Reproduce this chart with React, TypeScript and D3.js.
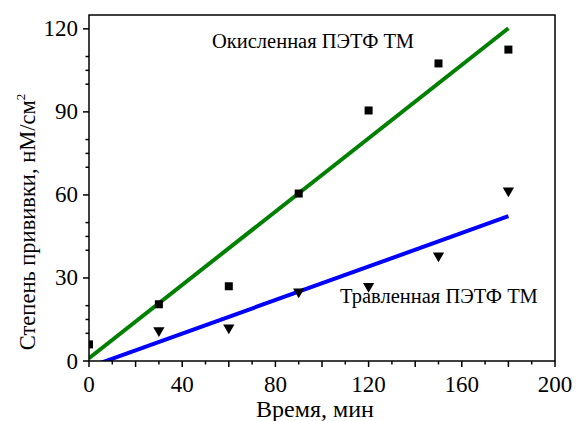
import React from "react";
import * as d3 from "d3";

const timeOx = [0, 30, 60, 90, 120, 150, 180];
const gradOx = [6, 20.5, 27, 60.5, 90.5, 107.5, 112.5];
const timeEt = [30, 60, 90, 120, 150, 180];
const gradEt = [11, 12, 25, 27, 38, 61.5];
const fitOxX = [0, 180];
const fitOxY = [1, 120.2];
const fitEtX = [0, 180];
const fitEtY = [-2.2, 52.3];
const xMajorLabels = [0, 40, 80, 120, 160, 200];
const yMajorLabels = [0, 30, 60, 90, 120];
const labelOx = "Окисленная ПЭТФ ТМ";
const labelEt = "Травленная ПЭТФ ТМ";
const xTitle = "Время, мин";
const yTitle = "Степень прививки, нМ/см";

const W = 576, H = 421;
const L = 89, R = 555, T = 15, B = 361;
const font = '"Liberation Serif", "Times New Roman", "DejaVu Serif", serif';

export default function App() {
  const x = d3.scaleLinear().domain([0, 200]).range([L, R]);
  const y = d3.scaleLinear().domain([0, 125]).range([B, T]);
  const xTicks = d3.range(0, 201, 10);
  const yTicks = d3.range(0, 126, 5).filter((v) => v % 30 !== 5 && v % 30 !== 25);
  const mk = (xs: number[], ys: number[]) =>
    d3.line<number>().x((d) => x(d)).y((d, i) => y(ys[i]))(xs) || "";
  const tri = d3.symbol().type(d3.symbolTriangle).size(55)();
  const ts = { fontFamily: font };
  return (
    <div style={{ position: "fixed", left: 0, top: 0 }}>
      <svg width={W} height={H} style={{ display: "block", background: "#fff", fontFamily: font }}>
        <defs>
          <clipPath id="pa">
            <rect x={L} y={T} width={R - L} height={B - T} />
          </clipPath>
        </defs>
        <g clipPath="url(#pa)">
          <path d={mk(fitOxX, fitOxY)} stroke="#008000" strokeWidth={4} fill="none" />
          <path d={mk(fitEtX, fitEtY)} stroke="#0000ff" strokeWidth={4} fill="none" />
          {timeOx.map((t, i) => (
            <rect key={"s" + i} x={x(t) - 4} y={y(gradOx[i]) - 4} width={8} height={8} fill="#000" />
          ))}
          {timeEt.map((t, i) => (
            <path key={"t" + i} d={tri || ""} transform={`translate(${x(t)},${y(gradEt[i])}) rotate(180)`} fill="#000" />
          ))}
        </g>
        <rect x={L} y={T} width={R - L} height={B - T} fill="none" stroke="#000" strokeWidth={1.5} />
        {xTicks.map((v) => (
          <line key={"xt" + v} x1={x(v)} x2={x(v)} y1={B} y2={B + (v % 20 === 0 ? 6 : 3.5)} stroke="#000" strokeWidth={1.5} />
        ))}
        {yTicks.map((v) => (
          <line key={"yt" + v} x1={L} x2={L - (v % 30 === 0 ? 6 : 3.5)} y1={y(v)} y2={y(v)} stroke="#000" strokeWidth={1.5} />
        ))}
        {xMajorLabels.map((v) => (
          <text key={"xl" + v} x={x(v)} y={392} textAnchor="middle" fontSize={23} style={ts}>{v}</text>
        ))}
        {yMajorLabels.map((v) => (
          <text key={"yl" + v} x={78} y={y(v) + 7.5} textAnchor="end" fontSize={23} style={ts}>{v}</text>
        ))}
        <text x={315} y={417} textAnchor="middle" fontSize={24} style={ts}>{xTitle}</text>
        <text transform={`translate(35,${222}) rotate(-90)`} textAnchor="middle" fontSize={22.5} style={ts}>
          {yTitle}
          <tspan dy={-10} fontSize={13}>2</tspan>
        </text>
        <text x={212} y={48} fontSize={20.5} style={ts}>{labelOx}</text>
        <text x={340} y={303} fontSize={20.5} style={ts}>{labelEt}</text>
      </svg>
    </div>
  );
}
